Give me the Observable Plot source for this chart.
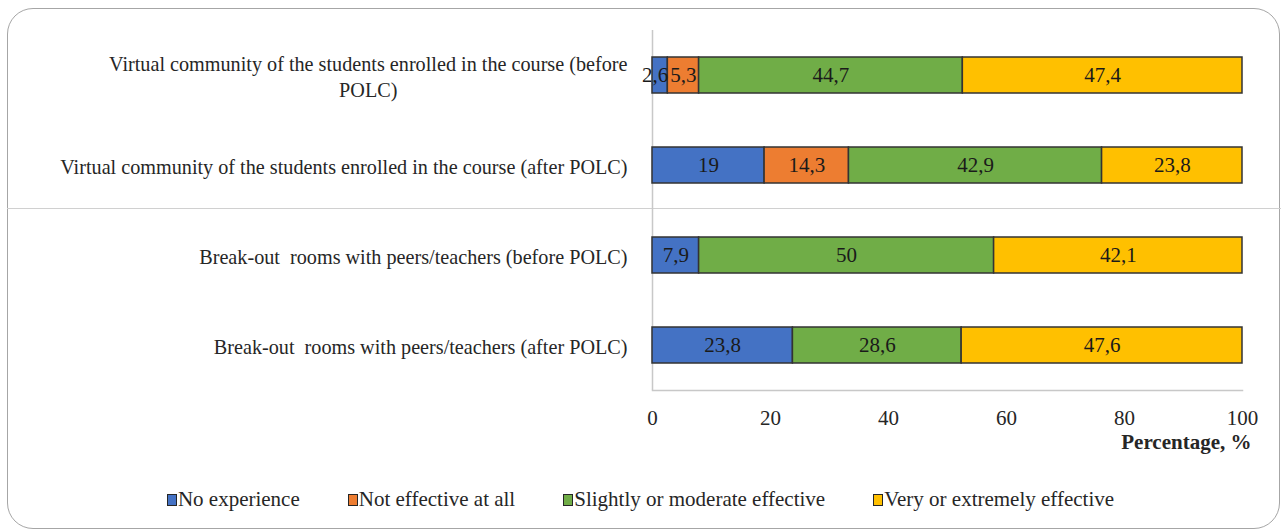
<!DOCTYPE html>
<html>
<head>
<meta charset="utf-8">
<script src="https://cdn.jsdelivr.net/npm/d3@7"></script>
<script src="https://cdn.jsdelivr.net/npm/@observablehq/plot@0.6"></script>
<style>
  html, body { margin: 0; padding: 0; background: #fff; }
  #wrap { position: relative; width: 1281px; height: 531px; overflow: hidden; font-family: "Liberation Serif", "Times New Roman", serif; }
  #border { position: absolute; left: 7px; top: 8px; width: 1271px; height: 519px; border: 1.5px solid #a6a6a6; border-radius: 26px; box-sizing: content-box; }
  #sep { position: absolute; left: 7px; top: 208px; width: 1274px; height: 0; border-top: 1.5px solid #d0d0d0; }
  #chart { position: absolute; left: 0; top: 0; }
  #legend { position: absolute; left: 0; top: 487px; width: 1281px; display: flex; justify-content: center; gap: 0; font-size: 21px; color: #262626; }
  .item { display: flex; align-items: center; margin: 0 24px; white-space: pre; }
  .sw { width: 8px; height: 10px; border: 1.5px solid #262626; margin-right: 1px; }
  svg text { white-space: pre; }
</style>
</head>
<body>
<div id="wrap">
  <div id="border"></div>
  <div id="sep"></div>
  <div id="chart"></div>
  <div id="legend"></div>
</div>
<script>
const categories = [
  "Virtual community of the students enrolled in the course (before POLC)",
  "Virtual community of the students enrolled in the course (after POLC)",
  "Break-out  rooms with peers/teachers (before POLC)",
  "Break-out  rooms with peers/teachers (after POLC)"
];
const seriesNames = ["No experience", "Not effective at all", "Slightly or moderate effective", "Very or extremely effective"];
const seriesColors = ["#4472C4", "#ED7D31", "#70AD47", "#FFC000"];
const noExperience = [2.6, 19, 7.9, 23.8];
const notEffective = [5.3, 14.3, 0, 0];
const slightlyModerate = [44.7, 42.9, 50, 28.6];
const veryExtremely = [47.4, 23.8, 42.1, 47.6];
const xTicks = [0, 20, 40, 60, 80, 100];

const seriesValues = [noExperience, notEffective, slightlyModerate, veryExtremely];
const data = [];
categories.forEach((c, i) => {
  seriesNames.forEach((s, j) => {
    const v = seriesValues[j][i];
    if (v > 0) data.push({cat: c, series: s, value: v});
  });
});
const fmt = v => String(v).replace(".", ",");
const wrapLabel = c => c === categories[0]
  ? "Virtual community of the students enrolled in the course (before\nPOLC)"
  : c;

const plot = Plot.plot({
  width: 1281,
  height: 470,
  marginLeft: 652,
  marginRight: 39,
  marginTop: 30,
  marginBottom: 80,
  style: {fontFamily: '"Liberation Serif", "Times New Roman", serif', fontSize: "20px", color: "#262626", background: "transparent"},
  x: {domain: [0, 100]},
  y: {domain: categories, paddingInner: 0.6, paddingOuter: 0.3},
  color: {domain: seriesNames, range: seriesColors},
  marks: [
    Plot.ruleX([0], {stroke: "#c8c8c8", strokeWidth: 1.5}),
    Plot.frame({anchor: "bottom", stroke: "#c8c8c8", strokeWidth: 1.5}),
    Plot.barX(data, Plot.stackX({x: "value", y: "cat", z: "series", fill: "series", stroke: "#333", strokeWidth: 1.5, order: seriesNames})),
    Plot.text(data, Plot.stackX({x: "value", y: "cat", z: "series", text: d => d.value >= 3 ? fmt(d.value) : "", order: seriesNames, fill: "#1a1a1a", fontSize: 21})),
    Plot.text(data, Plot.stackX({x: "value", y: "cat", z: "series", text: d => d.value < 3 ? fmt(d.value) : "", order: seriesNames, fill: "#1a1a1a", fontSize: 21, dx: -5})),
    Plot.axisX(xTicks, {tickSize: 0, tickPadding: 20, label: null, fontSize: 21, fill: "#262626"}),
    Plot.axisY({tickSize: 0, tickPadding: 25, label: null, fontSize: 20.2, tickFormat: wrapLabel, lineHeight: 1.3, fill: "#262626"}),
    Plot.text(["Percentage, %"], {frameAnchor: "bottom-right", dy: 58, dx: 9, fontWeight: "bold", fontSize: 21, fill: "#262626", textAnchor: "end"})
  ]
});
document.getElementById("chart").appendChild(plot);

// center the wrapped second line under the first (as in the original)
plot.querySelectorAll("text").forEach(t => {
  const spans = t.querySelectorAll("tspan");
  if (spans.length === 2) {
    const w1 = spans[0].getComputedTextLength();
    const w2 = spans[1].getComputedTextLength();
    const cur = +spans[1].getAttribute("x") || 0;
    spans[1].setAttribute("x", cur - (w1 - w2) / 2);
  }
});

const legend = document.getElementById("legend");
seriesNames.forEach((s, i) => {
  const it = document.createElement("div");
  it.className = "item";
  const sw = document.createElement("div");
  sw.className = "sw";
  sw.style.background = seriesColors[i];
  const tx = document.createElement("span");
  tx.textContent = s;
  it.appendChild(sw);
  it.appendChild(tx);
  legend.appendChild(it);
});
</script>
</body>
</html>
